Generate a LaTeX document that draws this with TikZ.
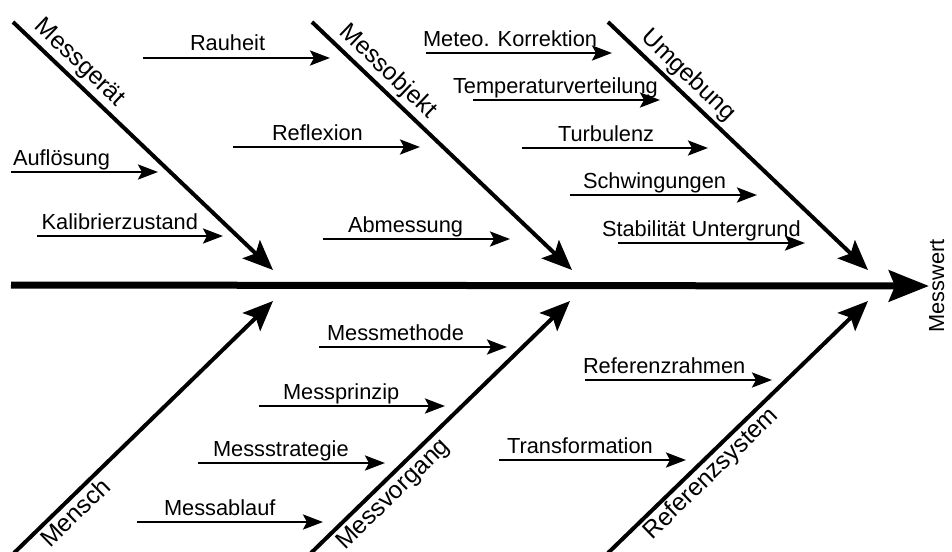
\documentclass[tikz,border=0pt]{standalone}
\usepackage{fontspec}
\setmainfont{Liberation Sans}
\usetikzlibrary{arrows.meta}
\begin{document}
\begin{tikzpicture}[x=1pt,y=-1pt,
  spine/.style={line width=7pt,-{Stealth[length=40pt,width=31pt,inset=6pt]}},
  bone/.style={line width=4pt,-{Stealth[length=30pt,width=25pt,inset=6pt]}},
  twig/.style={line width=2.8pt,-{Stealth[length=20pt,width=15pt,inset=4pt]}},
  txt/.style={inner sep=0pt,outer sep=0pt,font=\fontsize{21.8}{26}\selectfont},
  lbl/.style={txt,anchor=base west},
  btxt/.style={inner sep=0pt,outer sep=0pt,font=\fontsize{24.5}{29}\selectfont,anchor=base west},
  uplbl/.style={btxt,rotate=-43.65},
  lowlbl/.style={btxt,rotate=44.2},
]
\useasboundingbox (0,0) rectangle (952,551);

% spine
\node[txt,rotate=90,anchor=base] (mw) at (944,286) {Messwert};
\coordinate (s0) at (11,285);
\draw[spine] (s0) -- (mw.north);

% upper bones
\coordinate (g0) at (13,22);   \coordinate (g1) at (273,270);
\coordinate (o0) at (312,22);  \coordinate (o1) at (572,270);
\coordinate (u0) at (608,22);  \coordinate (u1) at (868,270);
\draw[bone] (g0) -- (g1);
\draw[bone] (o0) -- (o1);
\draw[bone] (u0) -- (u1);
\node[uplbl] (lg) at (33.9,28) {Messgerät};
\node[uplbl] (lo) at (338.4,33.3) {Messobjekt};
\node[uplbl] (lu) at (640.2,38.8) {Umgebung};

% lower bones
\coordinate (m0) at (14,553);  \coordinate (m1) at (273,301);
\coordinate (v0) at (311,553); \coordinate (v1) at (570,301);
\coordinate (r0) at (608,553); \coordinate (r1) at (868,301);
\draw[bone] (m0) -- (m1);
\draw[bone] (v0) -- (v1);
\draw[bone] (r0) -- (r1);
\node[lowlbl] (lm) at (50.3,548.4) {Mensch};
\node[lowlbl] (lv) at (345.2,550.4) {Messvorgang};
\node[lowlbl] (lr) at (652.5,540.5) {Referenzsystem};

% twigs: Messgerät
\coordinate (a1s) at (11,172);  \coordinate (a1e) at (158,172);
\draw[twig] (a1s) -- (a1e); \node[lbl] (t1) at (13,165) {Auflösung};
\coordinate (a2s) at (37,236);  \coordinate (a2e) at (223,236);
\draw[twig] (a2s) -- (a2e); \node[lbl] (t2) at (41.7,229) {Kalibrierzustand};

% twigs: Messobjekt
\coordinate (a3s) at (143,58);  \coordinate (a3e) at (330,58);
\draw[twig] (a3s) -- (a3e); \node[lbl] (t3) at (190,51) {Rauheit};
\coordinate (a4s) at (233,147); \coordinate (a4e) at (420,147);
\draw[twig] (a4s) -- (a4e); \node[lbl] (t4) at (272,140) {Reflexion};
\coordinate (a5s) at (323,239); \coordinate (a5e) at (510,239);
\draw[twig] (a5s) -- (a5e); \node[lbl] (t5) at (348,232) {Abmessung};

% twigs: Umgebung
\coordinate (a6s) at (426,53);  \coordinate (a6e) at (612,53);
\draw[twig] (a6s) -- (a6e); \node[lbl] (t6) at (423,46) {Meteo. Korrektion};
\coordinate (a7s) at (473,100); \coordinate (a7e) at (660,100);
\draw[twig] (a7s) -- (a7e); \node[lbl] (t7) at (453,93) {Temperaturverteilung};
\coordinate (a8s) at (522,148); \coordinate (a8e) at (708,148);
\draw[twig] (a8s) -- (a8e); \node[lbl] (t8) at (558,141) {Turbulenz};
\coordinate (a9s) at (570,195); \coordinate (a9e) at (757,195);
\draw[twig] (a9s) -- (a9e); \node[lbl] (t9) at (583,188) {Schwingungen};
\coordinate (a10s) at (618,243); \coordinate (a10e) at (805,243);
\draw[twig] (a10s) -- (a10e); \node[lbl] (t10) at (602,236) {Stabilität Untergrund};

% twigs: Messvorgang
\coordinate (b1s) at (319,347); \coordinate (b1e) at (507,347);
\draw[twig] (b1s) -- (b1e); \node[lbl] (s1) at (327,340) {Messmethode};
\coordinate (b2s) at (259,406); \coordinate (b2e) at (445,406);
\draw[twig] (b2s) -- (b2e); \node[lbl] (s2) at (283,399) {Messprinzip};
\coordinate (b3s) at (198,463); \coordinate (b3e) at (385,463);
\draw[twig] (b3s) -- (b3e); \node[lbl] (s3) at (213,456) {Messstrategie};
\coordinate (b4s) at (137,522); \coordinate (b4e) at (323,522);
\draw[twig] (b4s) -- (b4e); \node[lbl] (s4) at (164,515) {Messablauf};

% twigs: Referenzsystem
\coordinate (b5s) at (585,380); \coordinate (b5e) at (772,380);
\draw[twig] (b5s) -- (b5e); \node[lbl] (s5) at (583,373) {Referenzrahmen};
\coordinate (b6s) at (499,460); \coordinate (b6e) at (686,460);
\draw[twig] (b6s) -- (b6e); \node[lbl] (s6) at (507,453) {Transformation};
\end{tikzpicture}
\end{document}
